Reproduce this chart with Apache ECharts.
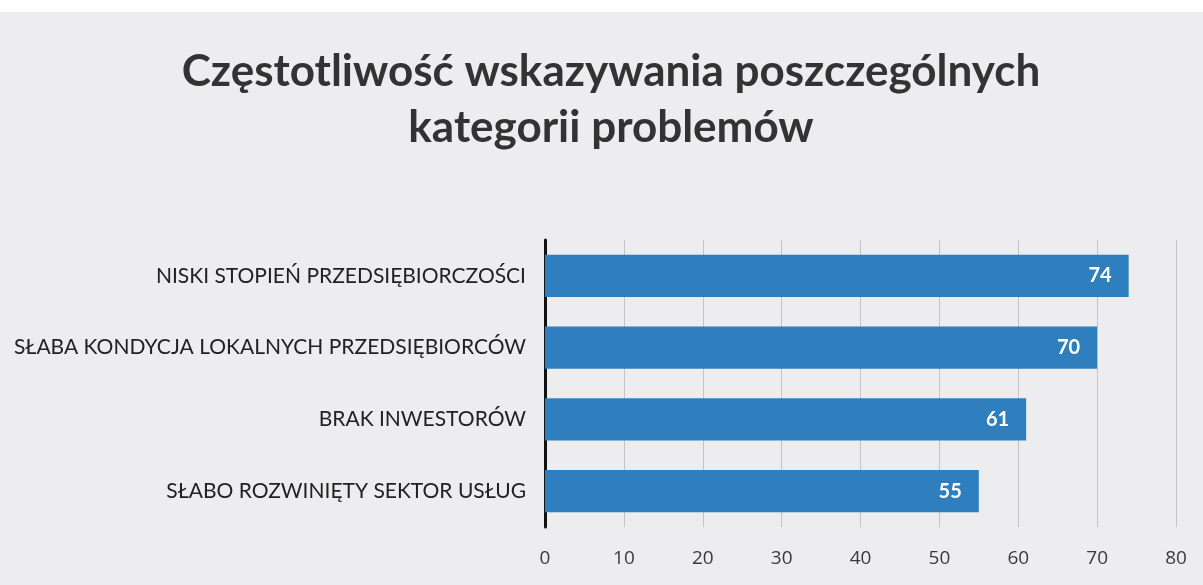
<!DOCTYPE html>
<html>
<head>
<meta charset="utf-8">
<script src="https://cdn.jsdelivr.net/npm/echarts@6/dist/echarts.min.js"></script>
<style>
  html, body { margin: 0; padding: 0; background: #ededef; }
  #chart { width: 1203px; height: 585px; }
</style>
</head>
<body>
<div id="chart"></div>
<script>
// categories, top to bottom
const categories = [
  'NISKI STOPIEŃ PRZEDSIĘBIORCZOŚCI',
  'SŁABA KONDYCJA LOKALNYCH PRZEDSIĘBIORCÓW',
  'BRAK INWESTORÓW',
  'SŁABO ROZWINIĘTY SEKTOR USŁUG'
];
const values = [74, 70, 61, 55];
const axisMax = 80;
const axisStep = 10;

let drawCharts = echarts.init(document.getElementById('chart'));
let option = {
  backgroundColor: '#ededef',
  title: {
    text: 'Częstotliwość wskazywania poszczególnych\nkategorii problemów',
    left: 611,
    top: 44,
    padding: 0,
    textAlign: 'center',
    textStyle: {
      fontFamily: 'Lato',
      fontWeight: 'bold',
      fontSize: 44,
      lineHeight: 56,
      color: '#333333'
    }
  },
  graphic: [{
    type: 'rect',
    left: 0, top: 0,
    shape: { width: 1203, height: 12 },
    style: { fill: '#ffffff' },
    z: -1
  }],
  grid: {
    left: 545,
    right: 27,
    top: 240,
    bottom: 58
  },
  xAxis: {
    type: 'value',
    min: 0,
    max: axisMax,
    interval: axisStep,
    axisLine: { show: false },
    axisTick: { show: false },
    splitLine: { lineStyle: { color: '#c4c4c8', width: 1 } },
    axisLabel: {
      margin: 22,
      fontFamily: 'Open Sans',
      fontSize: 19,
      color: '#3a3a3a'
    }
  },
  yAxis: {
    type: 'category',
    inverse: true,
    data: categories,
    axisLine: { show: true, lineStyle: { color: '#111111', width: 3 } },
    axisTick: { show: false },
    axisLabel: {
      margin: 19,
      fontFamily: 'Lato',
      fontSize: 21,
      color: '#222222'
    }
  },
  series: [{
    type: 'bar',
    data: values,
    barCategoryGap: '41%',
    itemStyle: { color: '#2f7fbf' },
    label: {
      show: true,
      position: 'insideRight',
      distance: 17,
      color: '#ffffff',
      fontFamily: 'Lato',
      fontWeight: 'bold',
      fontSize: 20
    }
  }]
};
drawCharts.setOption(option);
</script>
</body>
</html>
